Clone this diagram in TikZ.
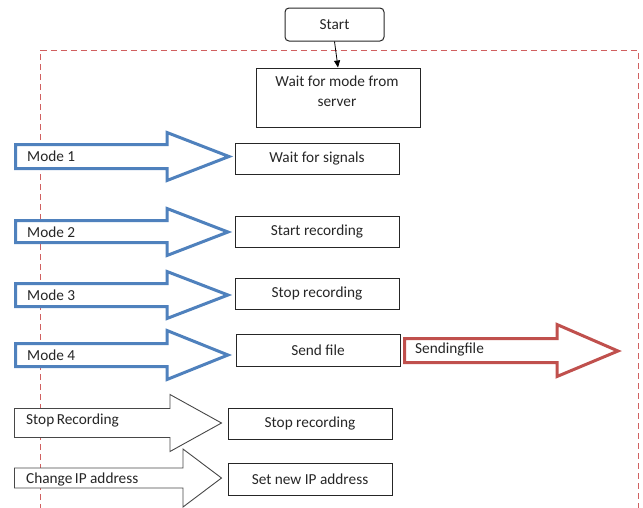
\documentclass[tikz,border=0pt]{standalone}
\usepackage{fontspec}
\setmainfont{Carlito}
\usetikzlibrary{arrows.meta}
\definecolor{accblue}{HTML}{4F81BD}
\definecolor{accred}{HTML}{C0504D}
\definecolor{frame}{HTML}{D06060}
\definecolor{ink}{HTML}{262626}
\tikzset{
  box/.style={draw=ink, line width=1pt, minimum width=164pt, inner sep=0pt, align=center, font=\fontsize{15.3}{19}\selectfont, text=ink},
  startbox/.style={box, rounded corners=4pt, minimum width=99pt, minimum height=33pt},
  bluearrow/.style={draw=accblue, line width=3pt, line join=miter, fill=white},
  redarrow/.style={draw=accred, line width=3pt, line join=miter, fill=white},
  grayarrow/.style={draw=ink!85, line width=0.9pt, line join=miter, fill=white},
  lbl/.style={anchor=west, inner sep=0pt, font=\fontsize{15.3}{19}\selectfont, text=ink},
  plain/.style={inner sep=0pt, align=center, font=\fontsize{15.3}{19}\selectfont, text=ink},
  dashframe/.style={draw=frame, line width=1pt, dash pattern=on 6pt off 4pt},
  link/.style={draw=black, line width=0.8pt, -{Triangle[length=7pt,width=6pt]}}
}
\begin{document}
\begin{tikzpicture}[x=1pt,y=-1pt]
\useasboundingbox (0,0) rectangle (643,507);
% dashed frame
\draw[dashframe] (40,510) -- (40,50.5) -- (638,50.5) -- (638,510);
% boxes
\node[startbox] (start) at (334.5,24.5) {Start};
\node[box, minimum height=59pt] (wait) at (338,97.5) {};
\node[plain] (waittext) at (337,91) {Wait for mode from\\[1pt]server};
\node[box, minimum height=31pt] (sig) at (317,158.5) {Wait for signals};
\node[box, minimum height=31pt] (startrec) at (317,231.5) {Start recording};
\node[box, minimum height=31pt] (stoprec) at (317,293.5) {Stop recording};
\node[box, minimum height=32pt] (send) at (318,350) {Send file};
\node[box, minimum height=31pt] (stoprecb) at (310,423.5) {Stop recording};
\node[box, minimum height=32pt] (setip) at (310,479) {Set new IP address};
\draw[link] (start.south) -- (wait.north);
% blue block arrows
\draw[bluearrow] (15.5,144.5) -- (167,144.5) -- (167,132.5) -- (229,156.5) -- (167,180.5) -- (167,168.5) -- (15.5,168.5) -- cycle;
\node[lbl] (m1) at (27,156.5) {Mode 1};
\draw[bluearrow] (15.5,220.5) -- (167,220.5) -- (167,208.5) -- (228,232) -- (167,255.5) -- (167,242.5) -- (15.5,242.5) -- cycle;
\node[lbl] (m2) at (27,232) {Mode 2};
\draw[bluearrow] (15.5,283.5) -- (167,283.5) -- (167,271.5) -- (228,295) -- (167,318.5) -- (167,306.5) -- (15.5,306.5) -- cycle;
\node[lbl] (m3) at (27,295) {Mode 3};
\draw[bluearrow] (15.5,343.5) -- (167,343.5) -- (167,330.5) -- (228,355) -- (167,379.5) -- (167,366.5) -- (15.5,366.5) -- cycle;
\node[lbl] (m4) at (27,355) {Mode 4};
% red block arrow
\draw[redarrow] (404.5,338.5) -- (557,338.5) -- (557,324.5) -- (618,351) -- (557,376.5) -- (557,362.5) -- (404.5,362.5) -- cycle;
\node[lbl] (sf) at (415,349.5) {Sendingfile};
% gray block arrows
\draw[grayarrow] (14.5,408.5) -- (170,408.5) -- (170,394.5) -- (221.5,423) -- (170,451.5) -- (170,437.5) -- (14.5,437.5) -- cycle;
\node[lbl] (sr) at (26,420) {Stop\hspace{2.5pt}Recording};
\draw[grayarrow] (14.5,468) -- (183,468) -- (183,449) -- (221.5,478) -- (183,507) -- (183,488) -- (14.5,488) -- cycle;
\node[lbl] (cip) at (26,479) {Change\hspace{2.5pt}IP address};
\end{tikzpicture}
\end{document}
